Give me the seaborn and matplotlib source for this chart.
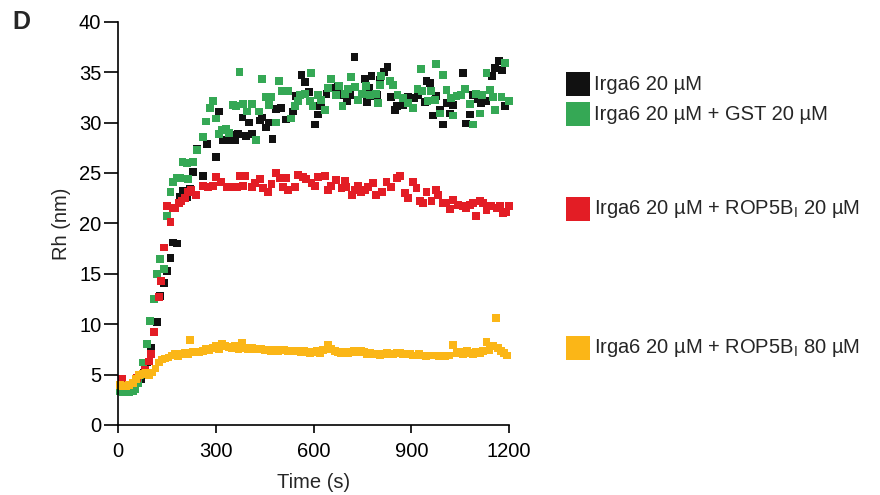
"""
DLS time course: hydrodynamic radius of Irga6 with / without ROP5B_I.
Values read off the published panel D.
"""

import matplotlib
matplotlib.use("Agg")
import matplotlib.pyplot as plt
from matplotlib.patches import Rectangle
import pandas as pd
import seaborn as sns

# ── data (time in s, Rh in nm) ──────────────────────────────────────────────
black_t = [10, 20, 30, 40, 50, 60, 70, 80, 90, 102, 121, 130, 140, 151, 161, 169, 182, 189, 200, 212,
           220, 230, 242, 261, 272, 301, 310, 322, 338, 351, 358, 368, 382, 392, 402, 412, 435, 443, 453,
           464, 474, 486, 501, 515, 537, 547, 563, 573, 586, 604, 611, 614, 624, 640, 658, 675, 686, 703,
           713, 726, 757, 764, 771, 778, 785, 796, 803, 817, 827, 837, 851, 857, 875, 890, 909, 921, 941,
           947, 957, 967, 977, 987, 998, 1008, 1018, 1028, 1059, 1069, 1080, 1090, 1105, 1115, 1131, 1148,
           1158, 1168, 1179, 1189]
black_rh = [3.6, 3.5, 3.5, 3.6, 3.8, 4.2, 4.6, 5.2, 6.2, 7.6, 10.2, 12.8, 14.1, 15.3, 16.6, 18.1, 18.0, 22.6,
            23.2, 22.6, 23.4, 25.1, 27.4, 24.7, 27.9, 26.6, 31.1, 28.3, 28.3, 28.8, 28.3, 28.9, 30.5, 28.7,
            30.0, 28.9, 30.2, 30.5, 29.5, 30.0, 28.4, 31.3, 31.4, 30.3, 31.1, 32.6, 34.7, 34.0, 33.0, 29.8,
            31.6, 30.8, 31.7, 32.8, 33.4, 33.5, 32.7, 32.1, 32.7, 36.5, 34.3, 32.0, 33.4, 34.6, 32.6, 32.7,
            34.2, 35.0, 35.5, 32.5, 31.2, 31.6, 31.7, 32.5, 32.4, 32.7, 32.0, 34.1, 33.9, 30.7, 32.6, 31.2,
            29.8, 31.9, 30.9, 31.7, 34.9, 29.9, 30.8, 32.7, 32.3, 31.9, 32.1, 34.6, 35.4, 36.1, 35.2, 31.6]

green_t = [5, 15, 25, 35, 45, 52, 61, 68, 77, 89, 99, 110, 120, 130, 140, 150, 161, 169, 182, 189, 198, 212,
           215, 230, 242, 261, 271, 282, 292, 302, 310, 320, 331, 341, 353, 363, 373, 384, 396, 412, 423,
           433, 443, 453, 464, 471, 484, 494, 504, 522, 532, 542, 553, 558, 573, 588, 593, 597, 614, 624,
           634, 645, 655, 668, 678, 689, 696, 706, 716, 727, 737, 750, 762, 773, 793, 798, 803, 808, 834,
           844, 858, 875, 890, 906, 919, 929, 933, 950, 960, 972, 977, 987, 998, 1008, 1021, 1028, 1039,
           1052, 1066, 1080, 1090, 1100, 1110, 1117, 1131, 1141, 1151, 1158, 1177, 1189, 1199]
green_rh = [3.4, 3.3, 3.3, 3.3, 3.4, 3.6, 4.2, 5.0, 6.2, 8.0, 10.3, 12.5, 15.0, 16.5, 15.5, 20.7, 23.1, 24.1,
            24.5, 24.5, 26.1, 26.0, 24.4, 26.1, 27.3, 28.6, 30.1, 31.4, 32.1, 30.4, 28.9, 29.3, 29.4, 29.0,
            31.7, 31.6, 35.0, 31.8, 31.1, 31.8, 28.3, 31.1, 34.3, 32.5, 31.7, 32.5, 30.0, 34.1, 33.1, 33.1,
            30.4, 31.6, 32.1, 32.7, 32.8, 32.1, 34.9, 31.6, 32.7, 32.2, 31.2, 33.4, 34.3, 32.7, 33.6, 31.6,
            32.8, 33.3, 34.5, 33.5, 32.2, 32.8, 33.6, 32.7, 32.8, 31.9, 33.7, 34.6, 34.1, 33.7, 32.7, 32.4,
            31.9, 31.4, 33.3, 35.3, 33.1, 32.1, 33.1, 32.2, 35.8, 30.9, 34.7, 33.2, 32.4, 30.7, 32.6, 32.7,
            33.3, 31.8, 29.8, 32.8, 30.9, 32.7, 34.9, 33.2, 32.5, 31.2, 32.5, 35.9, 32.1]

red_t = [13, 59, 82, 95, 100, 110, 126, 131, 140, 150, 161, 168, 176, 186, 195, 205, 215, 225, 240,
         261, 277, 292, 302, 317, 333, 348, 364, 374, 384, 389, 410, 420, 435, 445, 461, 471, 486, 496,
         507, 515, 522, 543, 553, 568, 578, 594, 604, 614, 635, 645, 655, 670, 686, 696, 701, 717, 727,
         737, 747, 757, 768, 783, 793, 809, 824, 839, 855, 865, 880, 890, 906, 916, 926, 936, 947, 962,
         977, 983, 998, 1008, 1018, 1028, 1044, 1059, 1069, 1080, 1090, 1098, 1110, 1121, 1131, 1146,
         1162, 1172, 1182, 1192, 1200]
red_rh = [4.6, 4.7, 5.5, 6.3, 7.0, 9.2, 12.7, 14.3, 17.6, 21.7, 20.1, 21.5, 21.5, 22.0, 22.2, 22.5, 23.1,
          23.3, 22.8, 23.7, 23.6, 23.7, 24.6, 24.1, 23.6, 23.6, 23.6, 24.7, 23.7, 24.7, 23.6, 24.0, 24.4,
          23.5, 23.1, 23.9, 25.0, 24.5, 23.6, 24.5, 23.3, 23.6, 24.8, 24.6, 24.4, 24.0, 23.7, 24.6, 24.7,
          23.3, 23.7, 24.3, 23.5, 24.2, 23.6, 22.8, 23.3, 23.7, 23.1, 23.3, 23.6, 24.0, 22.8, 23.1, 24.1,
          23.6, 24.5, 24.7, 23.0, 22.5, 24.1, 23.5, 22.2, 22.0, 23.1, 22.2, 23.3, 22.8, 22.0, 22.0, 21.4,
          22.3, 21.8, 21.7, 21.5, 21.8, 22.0, 20.7, 22.2, 22.0, 21.3, 21.7, 21.5, 21.7, 21.0, 21.1, 21.7]

orange_t = [5, 15, 25, 35, 45, 55, 65, 75, 85, 95, 105, 115, 125, 135, 145, 155, 165, 175, 185, 195, 205,
            215, 222, 230, 240, 250, 260, 270, 280, 290, 300, 310, 320, 330, 340, 350, 360, 370, 380, 390,
            400, 410, 420, 430, 440, 450, 460, 470, 480, 490, 500, 510, 520, 530, 540, 550, 560, 570, 580,
            590, 600, 610, 620, 630, 645, 655, 665, 675, 685, 695, 705, 715, 725, 735, 745, 755, 765, 775,
            785, 795, 805, 815, 825, 835, 845, 855, 865, 875, 885, 895, 905, 915, 925, 935, 945, 955, 965,
            975, 985, 995, 1005, 1015, 1028, 1040, 1050, 1060, 1070, 1080, 1090, 1100, 1110, 1120, 1131,
            1140, 1150, 1159, 1166, 1175, 1185, 1195]
orange_rh = [4.0, 3.9, 3.9, 4.0, 4.2, 4.6, 5.0, 5.1, 5.2, 5.0, 5.2, 5.6, 6.2, 6.5, 6.6, 6.7, 6.9, 7.0, 6.8,
             7.0, 7.1, 7.0, 8.4, 7.2, 7.2, 7.2, 7.3, 7.5, 7.4, 7.6, 7.8, 7.5, 8.0, 7.8, 7.7, 7.6, 7.8, 7.5,
             8.1, 7.6, 7.5, 7.6, 7.5, 7.5, 7.5, 7.4, 7.4, 7.3, 7.4, 7.3, 7.4, 7.4, 7.3, 7.3, 7.3, 7.3, 7.2,
             7.3, 7.2, 7.1, 7.2, 7.3, 7.1, 7.4, 7.9, 7.5, 7.3, 7.2, 7.1, 7.2, 7.1, 7.2, 7.3, 7.2, 7.3, 7.2,
             7.0, 7.1, 7.0, 7.0, 6.9, 7.0, 7.1, 7.0, 7.0, 7.1, 7.1, 7.0, 7.0, 7.0, 6.9, 6.9, 7.0, 6.9, 6.8,
             6.9, 6.9, 6.9, 6.8, 6.9, 6.8, 6.9, 7.9, 7.1, 7.2, 7.0, 7.3, 7.1, 7.0, 7.2, 7.1, 7.3, 8.2, 7.4,
             7.8, 10.6, 7.6, 7.3, 7.1, 6.9]

LABELS = [
    "Irga6 20 µM",
    "Irga6 20 µM + GST 20 µM",
    "Irga6 20 µM + ROP5B$_\\mathregular{I}$ 20 µM",
    "Irga6 20 µM + ROP5B$_\\mathregular{I}$ 80 µM",
]
COLORS = ["#111111", "#35a855", "#e31d25", "#fbb617"]

X_TICKS = [0, 300, 600, 900, 1200]
Y_TICKS = [0, 5, 10, 15, 20, 25, 30, 35, 40]

# ── style ───────────────────────────────────────────────────────────────────
sns.set_theme(style="ticks")
plt.rcParams["font.family"] = ["Liberation Sans", "DejaVu Sans"]
plt.rcParams["mathtext.fontset"] = "custom"
plt.rcParams["mathtext.rm"] = "Liberation Sans"

W, H = 880, 495


def fx(px):
    return px / W


def fy(py):
    return 1 - py / H


df = pd.concat([
    pd.DataFrame({"time": black_t, "rh": black_rh, "sample": LABELS[0]}),
    pd.DataFrame({"time": green_t, "rh": green_rh, "sample": LABELS[1]}),
    pd.DataFrame({"time": red_t, "rh": red_rh, "sample": LABELS[2]}),
    pd.DataFrame({"time": orange_t, "rh": orange_rh, "sample": LABELS[3]}),
], ignore_index=True)

fig = plt.figure(figsize=(W / 100, H / 100), dpi=100)
ax = fig.add_axes([fx(118), fy(425), fx(509) - fx(118), fy(21.7) - fy(425)])

sns.scatterplot(data=df, x="time", y="rh", hue="sample", hue_order=LABELS,
                palette=COLORS, marker="s", s=32, linewidth=0, alpha=1,
                legend=False, ax=ax)
for coll in ax.collections:
    coll.set_clip_on(False)

ax.set_xlim(0, 1200)
ax.set_ylim(0, 40)
ax.set_xticks(X_TICKS)
ax.set_yticks(Y_TICKS)
ax.set_xlabel("Time (s)", fontsize=14.5, labelpad=9)
ax.set_ylabel("Rh (nm)", fontsize=14.5, labelpad=6)
sns.despine(ax=ax)
for side in ("left", "bottom"):
    ax.spines[side].set_linewidth(1.2)
    ax.spines[side].set_color("black")
ax.tick_params(axis="x", length=6, width=1.2, pad=6, labelsize=14.5, colors="black")
ax.tick_params(axis="y", length=10, width=1.2, pad=2, labelsize=14.5, colors="black")

# panel letter
fig.text(fx(12), fy(22), "D", fontsize=18, fontweight="bold", va="center", ha="left")

# legend placed next to each curve level
legend_y = [84, 114, 209, 348]
for lab, col, ly in zip(LABELS, COLORS, legend_y):
    fig.add_artist(Rectangle((fx(566), fy(ly + 12)), fx(590) - fx(566), fy(ly - 12) - fy(ly + 12),
                             transform=fig.transFigure, facecolor=col, edgecolor="none"))
    fig.text(fx(594), fy(ly), lab, fontsize=14.5, va="center", ha="left")

fig.savefig("out.png", dpi=100)
